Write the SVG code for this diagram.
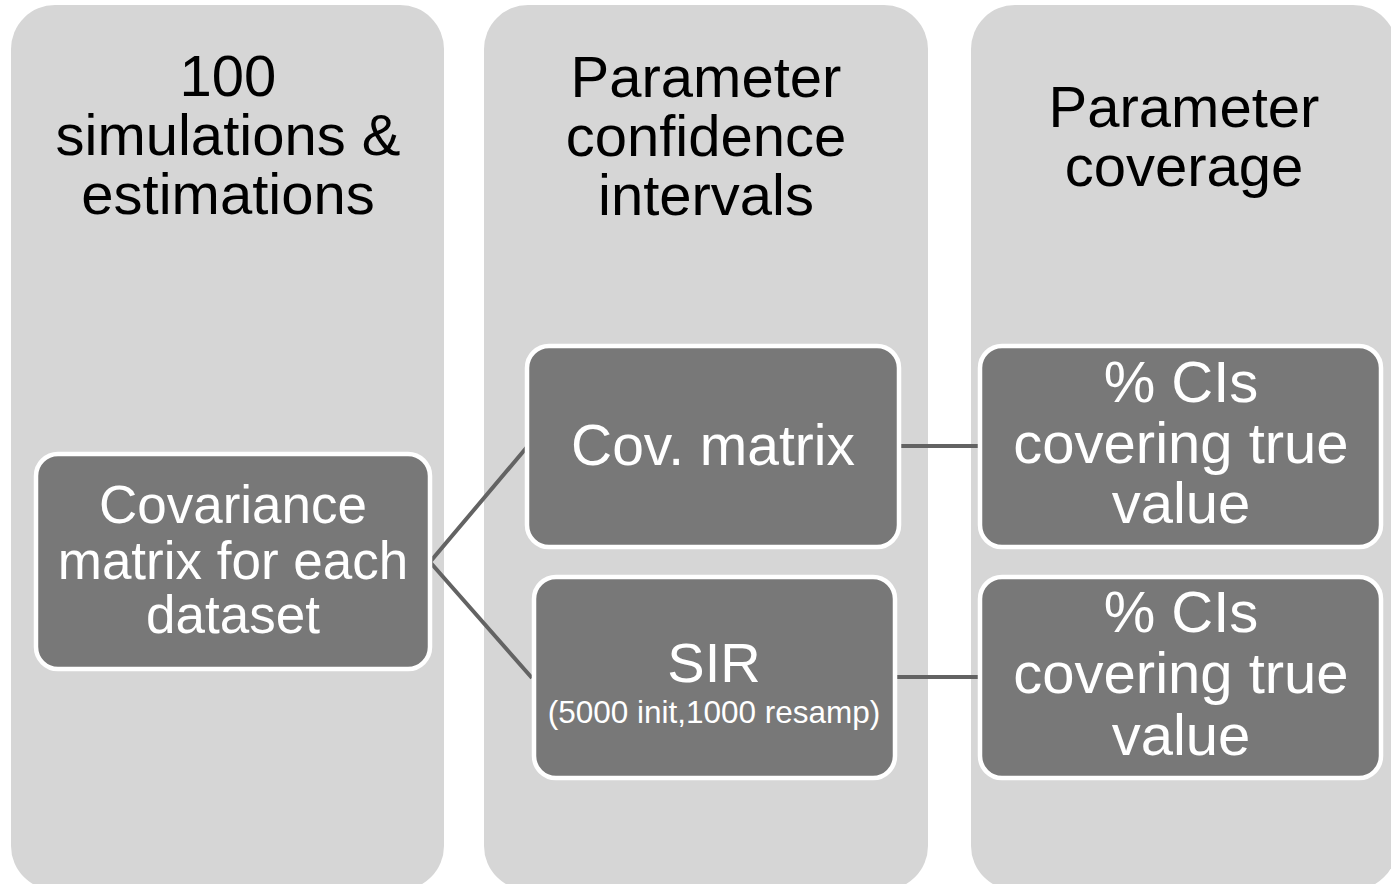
<svg xmlns="http://www.w3.org/2000/svg" width="1391" height="884" viewBox="0 0 1391 884">
<style>
.col{fill:#d6d6d6}
.node{fill:#787878;stroke:#ffffff;stroke-width:4.5}
.hdr{font-family:"Liberation Sans",Arial,sans-serif;font-size:58px;fill:#000000;text-anchor:middle}
.lbl{font-family:"Liberation Sans",Arial,sans-serif;fill:#ffffff;text-anchor:middle}
.conn{fill:none;stroke:#636363;stroke-width:4}
</style>
<rect width="1391" height="884" fill="#ffffff"/>
<g id="col1">
<rect class="col" x="11" y="5" width="433" height="885" rx="44"/>
<text class="hdr" x="228" y="96">100</text>
<text class="hdr" x="228" y="155">simulations &amp;</text>
<text class="hdr" x="228" y="214">estimations</text>
</g>
<g id="col2">
<rect class="col" x="484" y="5" width="444" height="885" rx="44"/>
<text class="hdr" x="706" y="97">Parameter</text>
<text class="hdr" x="706" y="156">confidence</text>
<text class="hdr" x="706" y="215">intervals</text>
</g>
<g id="col3">
<rect class="col" x="971" y="5" width="426" height="885" rx="44"/>
<text class="hdr" x="1184" y="127">Parameter</text>
<text class="hdr" x="1184" y="186">coverage</text>
</g>
<g id="connectors">
<path class="conn" d="M527 447 L430 562 L532 678"/>
<line class="conn" x1="899" y1="446" x2="980" y2="446"/>
<line class="conn" x1="894" y1="677" x2="980" y2="677"/>
</g>
<g id="covariance">
<rect class="node" x="36" y="454" width="394" height="215" rx="22"/>
<text class="lbl" x="233" y="523" font-size="53">Covariance</text>
<text class="lbl" x="233" y="579" font-size="53">matrix for each</text>
<text class="lbl" x="233" y="633" font-size="53">dataset</text>
</g>
<g id="covmatrix">
<rect class="node" x="527" y="346" width="372" height="201" rx="22"/>
<text class="lbl" x="713" y="465" font-size="57">Cov. matrix</text>
</g>
<g id="sir">
<rect class="node" x="534" y="577" width="361" height="201" rx="22"/>
<text class="lbl" x="714" y="682" font-size="56">SIR</text>
<text class="lbl" x="714" y="723" font-size="31.5">(5000 init,1000 resamp)</text>
</g>
<g id="ci1">
<rect class="node" x="980" y="346" width="401" height="201" rx="22"/>
<text class="lbl" x="1181" y="402" font-size="58">% CIs</text>
<text class="lbl" x="1181" y="463" font-size="58">covering true</text>
<text class="lbl" x="1181" y="523" font-size="58">value</text>
</g>
<g id="ci2">
<rect class="node" x="980" y="577" width="401" height="201" rx="22"/>
<text class="lbl" x="1181" y="632" font-size="58">% CIs</text>
<text class="lbl" x="1181" y="693" font-size="58">covering true</text>
<text class="lbl" x="1181" y="755" font-size="58">value</text>
</g>
</svg>
